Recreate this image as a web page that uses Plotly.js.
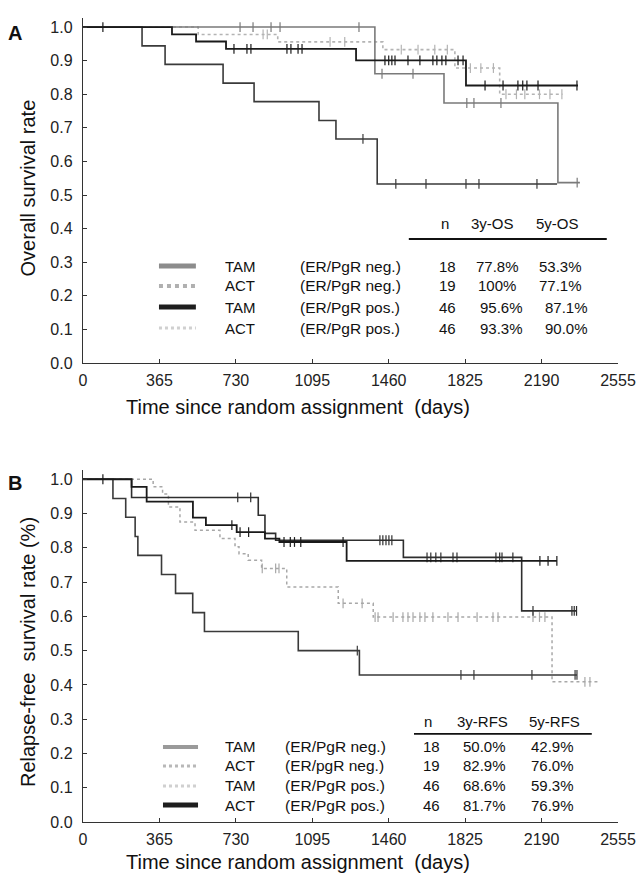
<!DOCTYPE html>
<html>
<head>
<meta charset="utf-8">
<script src="https://cdn.plot.ly/plotly-3.0.1.min.js"></script>
<style>html,body{margin:0;padding:0;background:#fff;} #chart{width:638px;height:876px;}</style>
</head>
<body>
<div id="chart"></div>
<script>
// ---------- Panel A: overall survival (days, survival) ----------
const A_TAMneg_days = [0, 282, 392, 669, 817, 1127, 1208, 1405];
const A_TAMneg_surv = [1, 0.944, 0.889, 0.833, 0.778, 0.722, 0.667, 0.533];
const A_TAMneg_end = 2264;
const A_TAMneg_cens = [1337, 1494, 1638, 1829, 1891, 2168];

const A_ACTneg_days = [0, 1394, 1724, 2268];
const A_ACTneg_surv = [1, 0.861, 0.774, 0.537];
const A_ACTneg_end = 2373;
const A_ACTneg_cens = [750, 812, 898, 941, 1318, 1428, 1576, 1833, 1867, 1996, 2360];

const A_TAMpos_days = [0, 425, 540, 683, 1304, 1829];
const A_TAMpos_surv = [1, 0.978, 0.957, 0.935, 0.901, 0.826];
const A_TAMpos_end = 2364;
const A_TAMpos_cens = [95, 721, 783, 802, 974, 993, 1027, 1046, 1442, 1460, 1475, 1490, 1552, 1609, 1671, 1690, 1714, 1733, 1791, 1815, 1920, 2006, 2077, 2100, 2120, 2173, 2359];

const A_ACTpos_days = [0, 550, 930, 1432, 1776, 1990];
const A_ACTpos_surv = [1, 0.978, 0.956, 0.933, 0.878, 0.80];
const A_ACTpos_end = 2290;
const A_ACTpos_cens = [860, 880, 1180, 1250, 1520, 1600, 1680, 1740, 1850, 1900, 1960, 2020, 2070, 2110, 2180, 2230, 2287];

// ---------- Panel B: relapse-free survival ----------
const B_TAMneg_days = [0, 143, 204, 249, 262, 375, 442, 524, 580, 1028, 1320];
const B_TAMneg_surv = [1, 0.944, 0.889, 0.833, 0.778, 0.722, 0.667, 0.611, 0.556, 0.5, 0.429];
const B_TAMneg_end = 2359;
const B_TAMneg_cens = [1310, 1805, 1867, 2144, 2350, 2359];

const B_ACTneg_days = [0, 232, 837, 869, 920, 1530, 2095];
const B_ACTneg_surv = [1, 0.947, 0.895, 0.842, 0.822, 0.772, 0.616];
const B_ACTneg_end = 2357;
const B_ACTneg_cens = [739, 801, 1418, 1432, 1447, 1461, 1475, 1643, 1661, 1685, 1709, 1767, 1786, 1972, 1990, 2001, 2053, 2149, 2335, 2346, 2357];

const B_TAMpos_days = [0, 335, 380, 408, 463, 535, 654, 726, 745, 789, 853, 973, 1219, 1386, 2240];
const B_TAMpos_surv = [1, 0.978, 0.957, 0.919, 0.875, 0.851, 0.827, 0.803, 0.783, 0.764, 0.74, 0.686, 0.638, 0.598, 0.409];
const B_TAMpos_end = 2469;
const B_TAMpos_cens = [856, 920, 936, 1242, 1333, 1395, 1409, 1481, 1528, 1552, 1576, 1609, 1633, 1671, 1743, 1791, 1882, 1958, 1982, 2149, 2180, 2206, 2397, 2421];

const B_ACTpos_days = [0, 232, 304, 525, 587, 734, 869, 938, 1259];
const B_ACTpos_surv = [1, 0.978, 0.935, 0.888, 0.866, 0.846, 0.827, 0.817, 0.762];
const B_ACTpos_end = 2263;
const B_ACTpos_cens = [95, 711, 750, 791, 960, 990, 1010, 1040, 1242, 2182, 2221, 2263];

// ---------- Tables ----------
const A_arm = ["TAM", "ACT", "TAM", "ACT"];
const A_group = ["(ER/PgR neg.)", "(ER/PgR neg.)", "(ER/PgR pos.)", "(ER/PgR pos.)"];
const A_n = ["18", "19", "46", "46"];
const A_3y = ["77.8%", "100%", "95.6%", "93.3%"];
const A_5y = ["53.3%", "77.1%", "87.1%", "90.0%"];
const A_head = ["n", "3y-OS", "5y-OS"];

const B_arm = ["TAM", "ACT", "TAM", "ACT"];
const B_group = ["(ER/PgR neg.)", "(ER/pgR neg.)", "(ER/PgR pos.)", "(ER/PgR pos.)"];
const B_n = ["18", "19", "46", "46"];
const B_3y = ["50.0%", "82.9%", "68.6%", "81.7%"];
const B_5y = ["42.9%", "76.0%", "59.3%", "76.9%"];
const B_head = ["n", "3y-RFS", "5y-RFS"];

const xTicks = [0, 365, 730, 1095, 1460, 1825, 2190, 2555];
const yTicks = [0, 0.1, 0.2, 0.3, 0.4, 0.5, 0.6, 0.7, 0.8, 0.9, 1.0];
const xTitle = "Time since random assignment&nbsp; (days)";
const yTitleA = "Overall survival rate";
const yTitleB = "Relapse-free&nbsp; survival rate (%)";

// ---------- helpers ----------
function survAt(days, surv, t) {
  let v = surv[0];
  for (let i = 0; i < days.length; i++) { if (days[i] <= t) v = surv[i]; }
  return v;
}
const traces = [];
function addCurve(days, surv, end, cens, xa, ya, color, width, dash) {
  traces.push({
    x: days.concat([end]), y: surv.concat([surv[surv.length - 1]]),
    xaxis: xa, yaxis: ya, type: 'scatter', mode: 'lines',
    line: {shape: 'hv', color: color, width: width, dash: dash},
    hoverinfo: 'skip', showlegend: false
  });
  traces.push({
    x: cens, y: cens.map(t => survAt(days, surv, t)),
    xaxis: xa, yaxis: ya, type: 'scatter', mode: 'markers',
    marker: {symbol: 'line-ns-open', size: 7, color: color, line: {color: color, width: 1.2}},
    hoverinfo: 'skip', showlegend: false
  });
}
addCurve(A_ACTpos_days, A_ACTpos_surv, A_ACTpos_end, A_ACTpos_cens, 'x', 'y', '#b4b4b4', 1.6, 'dot');
addCurve(A_ACTneg_days, A_ACTneg_surv, A_ACTneg_end, A_ACTneg_cens, 'x', 'y', '#7a7a7a', 1.6, 'solid');
addCurve(A_TAMneg_days, A_TAMneg_surv, A_TAMneg_end, A_TAMneg_cens, 'x', 'y', '#3a3a3a', 1.6, 'solid');
addCurve(A_TAMpos_days, A_TAMpos_surv, A_TAMpos_end, A_TAMpos_cens, 'x', 'y', '#1a1a1a', 1.8, 'solid');

addCurve(B_TAMpos_days, B_TAMpos_surv, B_TAMpos_end, B_TAMpos_cens, 'x2', 'y2', '#a8a8a8', 1.5, 'dot');
addCurve(B_TAMneg_days, B_TAMneg_surv, B_TAMneg_end, B_TAMneg_cens, 'x2', 'y2', '#3a3a3a', 1.6, 'solid');
addCurve(B_ACTneg_days, B_ACTneg_surv, B_ACTneg_end, B_ACTneg_cens, 'x2', 'y2', '#2e2e2e', 1.6, 'solid');
addCurve(B_ACTpos_days, B_ACTpos_surv, B_ACTpos_end, B_ACTpos_cens, 'x2', 'y2', '#1a1a1a', 1.8, 'solid');

const FONT = 'Liberation Sans, Arial, Helvetica, sans-serif';
const TXT = '#222';
function xAxis(domainAnchor) {
  return {
    anchor: domainAnchor, domain: [0, 1], range: [0, 2555],
    tickvals: xTicks, ticktext: xTicks.map(String),
    ticks: 'inside', ticklen: 4, tickcolor: '#333', tickwidth: 1,
    showline: true, linecolor: '#333', linewidth: 1.2,
    showgrid: false, zeroline: false, ticklabelstandoff: 3,
    tickfont: {family: FONT, size: 16, color: TXT}
  };
}
function yAxis(domainAnchor, dom) {
  return {
    anchor: domainAnchor, domain: dom, range: [0, 1.027],
    tickvals: yTicks, ticktext: yTicks.map(v => v.toFixed(1)),
    ticks: 'inside', ticklen: 4, tickcolor: '#333', tickwidth: 1,
    showline: true, linecolor: '#333', linewidth: 1.2,
    showgrid: false, zeroline: false, ticklabelstandoff: 6,
    tickfont: {family: FONT, size: 16, color: TXT}
  };
}

// table positions (paper coords)
const annotations = [];
const shapes = [];
function txt(x, y, s, anchor, size, bold, angle) {
  annotations.push({xref: 'paper', yref: 'paper', x: x, y: y, text: bold ? '<b>' + s + '</b>' : s,
    showarrow: false, xanchor: anchor, yanchor: 'middle', textangle: angle || 0,
    font: {family: FONT, size: size, color: '#111'}});
}
function table(arm, group, n, y3, y5, head, cfg) {
  txt(cfg.nHead, cfg.headY, head[0], 'center', 15);
  txt(cfg.c3Head, cfg.headY, head[1], 'center', 15);
  txt(cfg.c5Head, cfg.headY, head[2], 'center', 15);
  shapes.push({type: 'line', xref: 'paper', yref: 'paper', x0: cfg.ruleX0, x1: cfg.ruleX1, y0: cfg.ruleY, y1: cfg.ruleY,
    line: {color: '#111', width: 1.8}});
  for (let i = 0; i < arm.length; i++) {
    const y = cfg.rowY[i];
    shapes.push({type: 'line', xref: 'paper', yref: 'paper', x0: cfg.sx0, x1: cfg.sx1, y0: y, y1: y,
      line: {color: cfg.sColor[i], width: cfg.sWidth[i], dash: cfg.sDash[i]}});
    txt(cfg.armX, y, arm[i], 'left', 15);
    txt(cfg.grpX, y, group[i], 'left', 15.5);
    txt(cfg.nX, y, n[i], 'center', 15);
    txt(cfg.c3X[i], y, y3[i], 'center', 15);
    txt(cfg.c5X[i], y, y5[i], 'center', 15);
  }
}
table(A_arm, A_group, A_n, A_3y, A_5y, A_head, {
  headY: 0.745, ruleY: 0.7251, ruleX0: 0.609, ruleX1: 0.979,
  nHead: 0.677, c3Head: 0.766, c5Head: 0.886,
  rowY: [0.6915, 0.6667, 0.6405, 0.6144],
  sx0: 0.142, sx1: 0.211, armX: 0.2617, grpX: 0.4019, nX: 0.682,
  c3X: [0.774, 0.774, 0.783, 0.783], c5X: [0.8916, 0.8916, 0.903, 0.903],
  sColor: ['#8c8c8c', '#b0b0b0', '#1e1e1e', '#d0d0d0'], sWidth: [5, 4, 5, 3], sDash: ['solid', 'dot', 'solid', 'dot']
});
table(B_arm, B_group, B_n, B_3y, B_5y, B_head, {
  headY: 0.1256, ruleY: 0.1095, ruleX0: 0.6187, ruleX1: 0.951,
  nHead: 0.645, c3Head: 0.746, c5Head: 0.882,
  rowY: [0.0933, 0.0697, 0.0448, 0.0211],
  sx0: 0.1495, sx1: 0.215, armX: 0.2617, grpX: 0.374, nX: 0.652,
  c3X: [0.751, 0.751, 0.751, 0.751], c5X: [0.8785, 0.8785, 0.8785, 0.8785],
  sColor: ['#9a9a9a', '#b8b8b8', '#d0d0d0', '#1e1e1e'], sWidth: [4, 3, 3, 5], sDash: ['solid', 'dot', 'dot', 'solid']
});
txt(-0.127, 0.981, 'A', 'center', 20, true);
txt(-0.127, 0.4216, 'B', 'center', 20, true);
// axis titles
txt(0.402, 0.516, xTitle, 'center', 20);
txt(0.402, -0.0498, xTitle, 'center', 20);
txt(-0.1028, 0.788, yTitleA, 'center', 20, false, -90);
txt(-0.1028, 0.2114, yTitleB, 'center', 20, false, -90);

const layout = {
  width: 638, height: 876,
  margin: {l: 83, r: 20, t: 18, b: 54},
  paper_bgcolor: '#fff', plot_bgcolor: '#fff',
  font: {family: FONT, color: TXT},
  showlegend: false,
  xaxis: xAxis('y'),
  yaxis: yAxis('x', [0.5709, 1]),
  xaxis2: xAxis('y2'),
  yaxis2: yAxis('x2', [0, 0.4378]),
  annotations: annotations,
  shapes: shapes
};
Plotly.newPlot('chart', traces, layout, {staticPlot: true, displayModeBar: false});
</script>
</body>
</html>
